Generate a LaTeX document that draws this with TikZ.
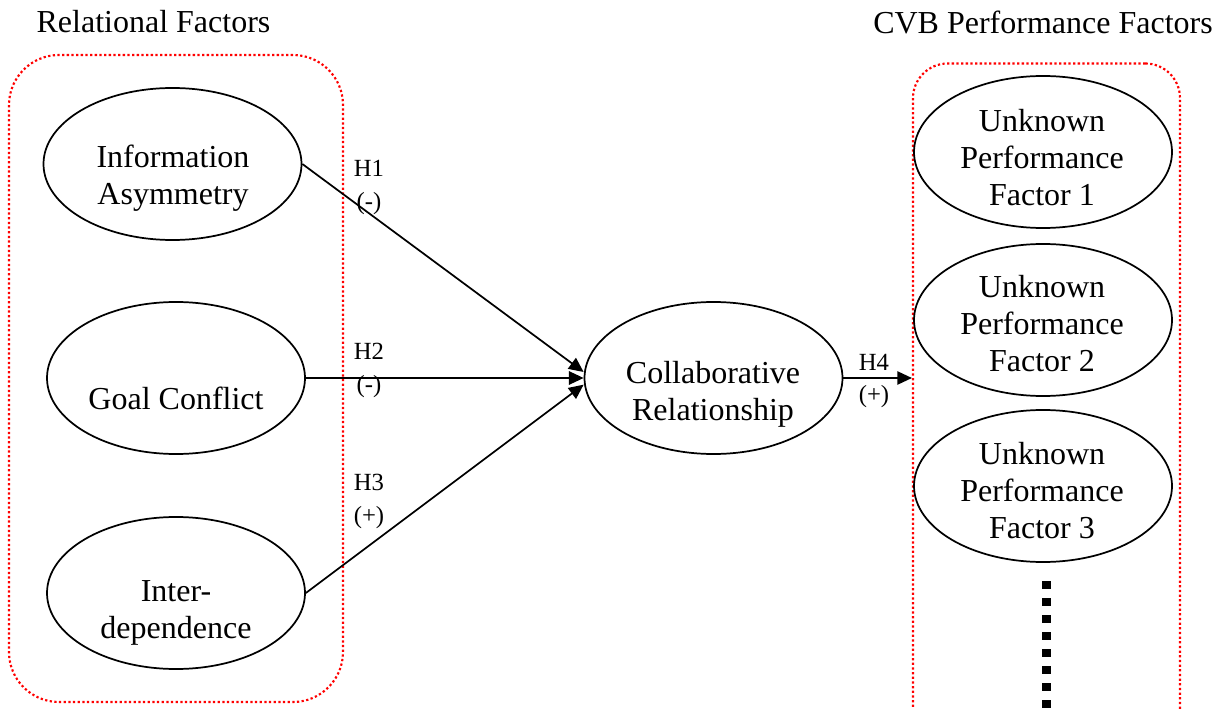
\documentclass[tikz,border=0pt]{standalone}
\usepackage{fontspec}
\setmainfont{Liberation Serif}
\usetikzlibrary{arrows.meta, shapes.geometric, positioning}

\begin{document}
\begin{tikzpicture}[x=0.75pt, y=-0.75pt,
    factor/.style={draw, ellipse, line width=1.3pt, minimum width=193.5pt, minimum height=114pt, inner sep=0pt},
    group/.style={draw=red, rectangle, line width=1.6pt, dash pattern=on 1.7pt off 1.8pt, inner sep=0pt},
    txt/.style={align=center, font=\fontsize{24}{27.75}\selectfont},
    hyp/.style={align=center, font=\fontsize{18.5}{24.5}\selectfont},
    tip/.style={-{Triangle[length=11pt, width=10pt]}, line width=1.3pt}]
  \clip (0,0) rectangle (1228,709);

  % Relational factors (left group)
  \node[group, rounded corners=37.5pt, minimum width=250.5pt, minimum height=485.25pt] (rel) at (176,378.5) {};
  \node[txt] (reltitle) at (153.5,22) {Relational Factors};

  \node[factor] (ia) at (172.5,164) {};
  \node[txt] (iat) at (173,178) {Information\\Asymmetry};

  \node[factor] (gc) at (176,378) {};
  \node[txt] (gct) at (176,398) {Goal Conflict};

  \node[factor] (id) at (176,593) {};
  \node[txt] (idt) at (176,613) {Inter-\\dependence};

  % Collaborative relationship
  \node[factor] (cr) at (713.5,378) {};
  \node[txt] (crt) at (713,394) {Collaborative\\Relationship};

  % CVB performance factors (right group)
  \node[group, rounded corners=26pt, minimum width=200.25pt, minimum height=510.75pt] (perf) at (1046.5,404) {};
  \node[txt] (perftitle) at (1043,22) {CVB Performance Factors};

  \node[factor] (uf1) at (1043,152) {};
  \node[txt] (uf1t) at (1042,158) {Unknown\\Performance\\Factor 1};

  \node[factor] (uf2) at (1043,320) {};
  \node[txt] (uf2t) at (1042,324) {Unknown\\Performance\\Factor 2};

  \node[factor] (uf3) at (1043,486) {};
  \node[txt] (uf3t) at (1042,491) {Unknown\\Performance\\Factor 3};

  % more factors below
  \draw[line width=6.75pt, dash pattern=on 6pt off 6.75pt] (1046.5,581) -- (1046.5,730);

  % Hypotheses
  \draw[tip] (ia.east) -- ([yshift=4.5pt]cr.west);
  \draw[tip] (gc.east) -- (cr.west);
  \draw[tip] (id.east) -- ([yshift=-5pt]cr.west);
  \draw[tip] (cr.east) -- (cr.east -| perf.west);

  \node[hyp] (h1) at (369,187.5) {H1\\(-)};
  \node[hyp] (h2) at (369,370.5) {H2\\(-)};
  \node[hyp] (h3) at (369,501.5) {H3\\(+)};
  \node[hyp] (h4) at (874,381) {H4\\(+)};
\end{tikzpicture}
\end{document}
